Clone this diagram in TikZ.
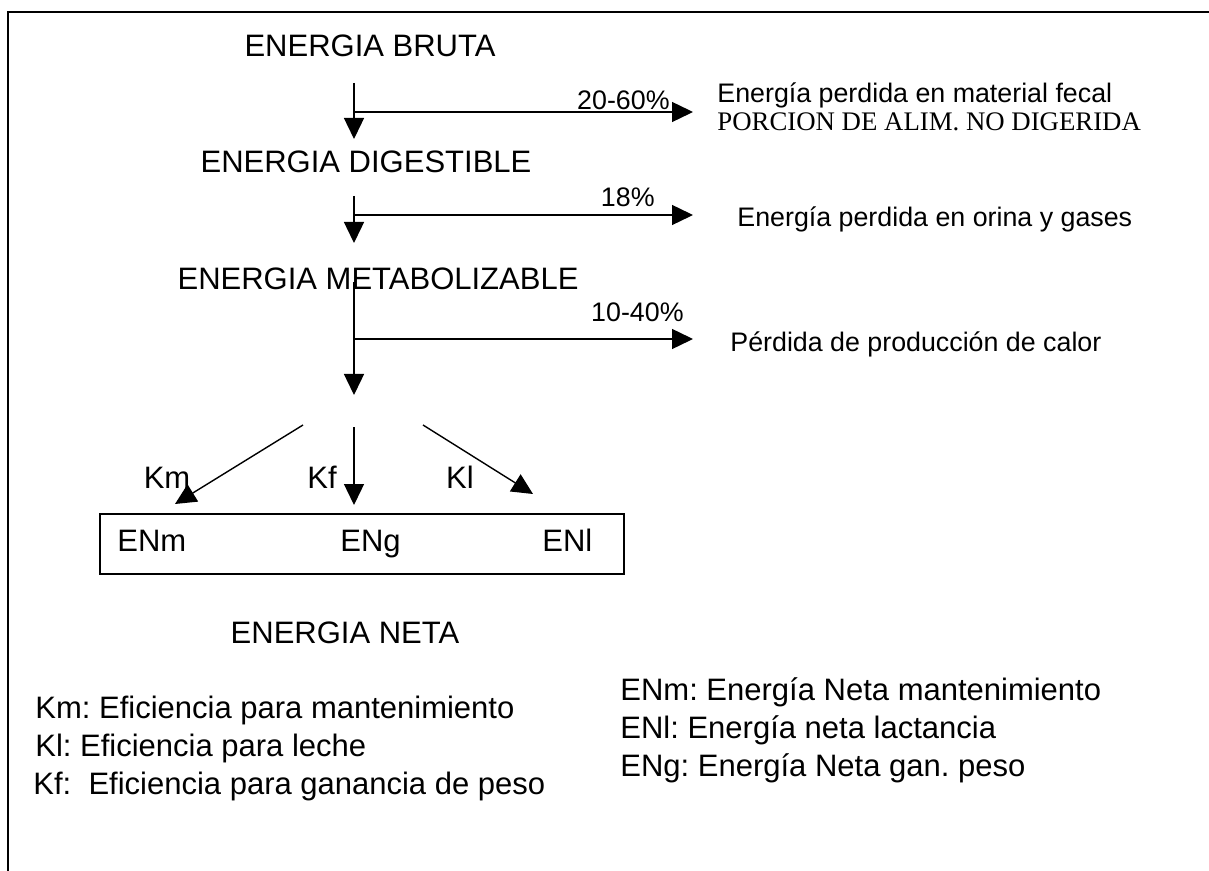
\documentclass[tikz,border=0pt]{standalone}
\usepackage{fontspec}
\setmainfont{Liberation Sans}
\newfontfamily\romanfont{Liberation Serif}
\usepackage{tikz}
\usetikzlibrary{positioning,arrows.meta}
\tikzset{flecha/.style={line width=0.7pt,-{Triangle[length=10.5pt,width=10pt]}}}
\tikzset{titulo/.style={inner sep=0pt,anchor=base,font=\fontsize{15.5}{18}\selectfont}}
\tikzset{perdida/.style={inner sep=0pt,anchor=base west,font=\fontsize{13.4}{16}\selectfont}}
\tikzset{porcentaje/.style={inner sep=0pt,anchor=base east,font=\fontsize{13.4}{16}\selectfont}}
\tikzset{leyenda/.style={inner sep=0pt,anchor=base west,font=\fontsize{15.5}{18}\selectfont}}
\frenchspacing

\begin{document}
\begin{tikzpicture}[x=0.5pt,y=-0.5pt]
            \useasboundingbox (0,0) rectangle (1209,871);
            \draw[line width=0.8pt] (8,871) -- (8,12) -- (1209,12);

            \node[titulo] (bruta)  at (370,57)  {ENERGIA BRUTA};
            \node[titulo] (digest) at (366,173) {ENERGIA DIGESTIBLE};
            \node[titulo] (metab)  at (378,290) {ENERGIA METABOLIZABLE};
            \node[titulo] (neta)   at (345,643) {ENERGIA NETA};

            \coordinate (b1) at (354,83);  \coordinate (d1) at (354,139);
            \coordinate (j1) at (354,112); \coordinate (p1) at (693,112);
            \coordinate (b2) at (354,196); \coordinate (d2) at (354,243);
            \coordinate (j2) at (354,215); \coordinate (p2) at (693,215);
            \coordinate (b3) at (354,282); \coordinate (d3) at (354,395);
            \coordinate (j3) at (354,339); \coordinate (p3) at (693,339);

            \draw[flecha] (b1) to (d1);
            \draw[flecha] (j1) to (p1);
            \draw[flecha] (b2) to (d2);
            \draw[flecha] (j2) to (p2);
            \draw[flecha] (b3) to (d3);
            \draw[flecha] (j3) to (p3);

            \node[porcentaje] (pc1) at (670,110) {20-60\%};
            \node[porcentaje] (pc2) at (655,207) {18\%};
            \node[porcentaje] (pc3) at (684,322) {10-40\%};

            \node[perdida] (fecal) at (717,103) {Energía perdida en material fecal};
            \node[perdida,font=\romanfont\fontsize{13.4}{16}\selectfont] (porcion) at (717,131) {PORCION DE ALIM. NO DIGERIDA};
            \node[perdida] (orina) at (737,227) {Energía perdida en orina y gases};
            \node[perdida] (calor) at (730,351) {Pérdida de producción de calor};

            \node[draw,line width=0.8pt,inner sep=0pt,minimum width=262pt,minimum height=30pt] (caja) at (362,544) {};
            \node[titulo,anchor=base west] (enm) at (117,551) {ENm};
            \node[titulo,anchor=base west] (eng) at (340,551) {ENg};
            \node[titulo,anchor=base west] (enl) at (542,551) {ENl};

            \coordinate (sm) at (303,425); \coordinate (tm) at (175,504);
            \coordinate (sf) at (354,427); \coordinate (tf) at (354,505);
            \coordinate (sl) at (423,425); \coordinate (tl) at (533,494);
            \draw[flecha] (sm) to (tm);
            \draw[flecha] (sf) to (tf);
            \draw[flecha] (sl) to (tl);

            \node[titulo] (km) at (167,488) {Km};
            \node[titulo] (kf) at (322,488) {Kf};
            \node[titulo] (kl) at (460,488) {Kl};

            \node[leyenda] (ley1) at (35,718) {Km: Eficiencia para mantenimiento};
            \node[leyenda] (ley2) at (35,756) {Kl: Eficiencia para leche};
            \node[leyenda] (ley3) at (33,794) {Kf:\ \ Eficiencia para ganancia de peso};
            \node[leyenda] (ley4) at (620,700) {ENm: Energía Neta mantenimiento};
            \node[leyenda] (ley5) at (620,738) {ENl: Energía neta lactancia};
            \node[leyenda] (ley6) at (620,776) {ENg: Energía Neta gan. peso};
        \end{tikzpicture}
\end{document}
